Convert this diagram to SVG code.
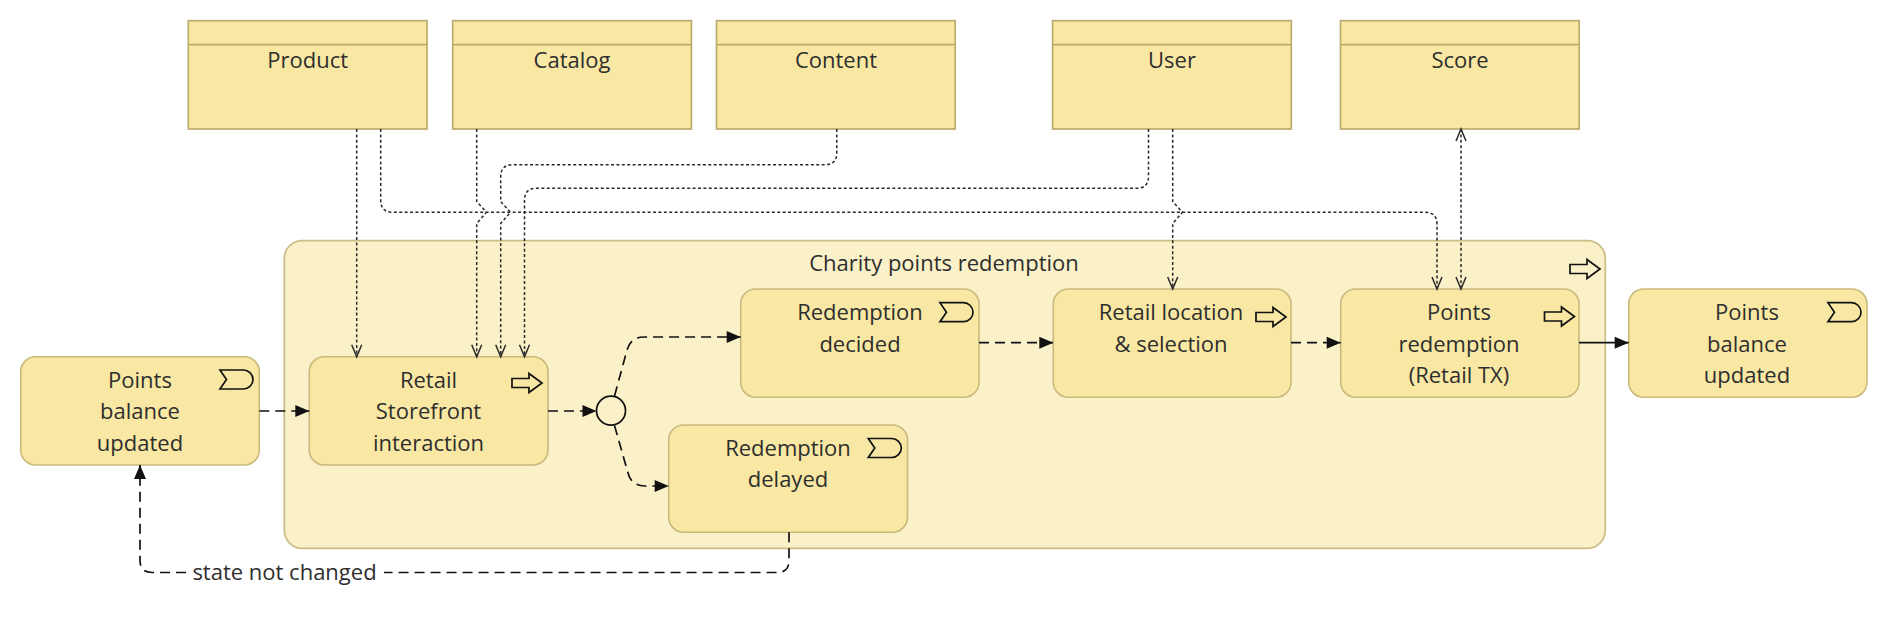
<svg xmlns="http://www.w3.org/2000/svg" width="1888" height="628" viewBox="0 0 1888 628">
<style>
.obj{fill:#f9e8a3;stroke:#bcac6e;stroke-width:1.7}
.node{fill:#f9e8a3;stroke:#c9b97c;stroke-width:1.6}
.cont{fill:#fbf1c9;stroke:#cbbd85;stroke-width:1.7}
.t{font-family:"Open Sans","Noto Sans",sans-serif;font-size:22px;fill:#2e2e2e;text-anchor:middle}
.icon{fill:none;stroke:#111;stroke-width:1.7;stroke-linejoin:miter}
.access{fill:none;stroke:#2a2a2a;stroke-width:1.5;stroke-dasharray:3 2.4}
.flow{fill:none;stroke:#111;stroke-width:1.7;stroke-dasharray:10 6}
.trig{fill:none;stroke:#111;stroke-width:1.7}
</style>
<defs>
<marker id="tri" markerUnits="userSpaceOnUse" markerWidth="16" markerHeight="14" refX="14" refY="6" orient="auto" overflow="visible">
<path d="M0,0 L14,6 L0,12 Z" fill="#111"/>
</marker>
<marker id="vee" markerUnits="userSpaceOnUse" markerWidth="14" markerHeight="12" refX="12" refY="5" orient="auto-start-reverse" overflow="visible">
<path d="M0,0 L12,5 L0,10" fill="none" stroke="#2a2a2a" stroke-width="1.5"/>
</marker>
<path id="evt" d="M0,0 H23.5 A9.5 9.5 0 0 1 23.5,19 H0 L6.5,9.5 Z"/>
<path id="proc" d="M0,-4.5 H17 V-9.5 L30,0 L17,9.5 V4.5 H0 Z"/>
</defs>

<g id="container-charity">
<rect class="cont" x="284.3" y="240.7" width="1321" height="307.6" rx="18"/>
<text class="t" x="944" y="271">Charity points redemption</text>
<use href="#proc" class="icon" x="1570" y="269"/>
</g>

<g id="obj-product"><rect class="obj" x="188.3" y="20.7" width="238.7" height="108.3"/><line class="obj" x1="188.3" y1="44.7" x2="427" y2="44.7"/><text class="t" x="307.7" y="68">Product</text></g>
<g id="obj-catalog"><rect class="obj" x="452.7" y="20.7" width="238.7" height="108.3"/><line class="obj" x1="452.7" y1="44.7" x2="691.4" y2="44.7"/><text class="t" x="572" y="68">Catalog</text></g>
<g id="obj-content"><rect class="obj" x="716.5" y="20.7" width="238.7" height="108.3"/><line class="obj" x1="716.5" y1="44.7" x2="955.2" y2="44.7"/><text class="t" x="836" y="68">Content</text></g>
<g id="obj-user"><rect class="obj" x="1052.6" y="20.7" width="238.7" height="108.3"/><line class="obj" x1="1052.6" y1="44.7" x2="1291.3" y2="44.7"/><text class="t" x="1172" y="68">User</text></g>
<g id="obj-score"><rect class="obj" x="1340.5" y="20.7" width="238.7" height="108.3"/><line class="obj" x1="1340.5" y1="44.7" x2="1579.2" y2="44.7"/><text class="t" x="1460" y="68">Score</text></g>

<g id="evt-points-balance-left">
<rect class="node" x="20.7" y="356.7" width="238.6" height="108.3" rx="15"/>
<use href="#evt" class="icon" x="220" y="370"/>
<text class="t" x="140" y="387.5">Points</text>
<text class="t" x="140" y="419.3">balance</text>
<text class="t" x="140" y="451">updated</text>
</g>
<g id="proc-retail-storefront">
<rect class="node" x="309.3" y="356.7" width="238.7" height="108.3" rx="15"/>
<use href="#proc" class="icon" x="512" y="383"/>
<text class="t" x="428.5" y="387.5">Retail</text>
<text class="t" x="428.5" y="419.3">Storefront</text>
<text class="t" x="428.5" y="451">interaction</text>
</g>
<g id="junction"><circle cx="611" cy="410.7" r="14.5" fill="none" stroke="#111" stroke-width="1.7"/></g>
<g id="evt-redemption-decided">
<rect class="node" x="740.7" y="289" width="238.3" height="108.3" rx="15"/>
<use href="#evt" class="icon" x="940" y="302.7"/>
<text class="t" x="860" y="320">Redemption</text>
<text class="t" x="860" y="351.7">decided</text>
</g>
<g id="evt-redemption-delayed">
<rect class="node" x="668.7" y="425" width="238.8" height="107.3" rx="15"/>
<use href="#evt" class="icon" x="868.3" y="438.5"/>
<text class="t" x="788" y="455.7">Redemption</text>
<text class="t" x="788" y="487.3">delayed</text>
</g>
<g id="proc-retail-location">
<rect class="node" x="1053.3" y="289" width="237.7" height="108.3" rx="15"/>
<use href="#proc" class="icon" x="1256" y="317"/>
<text class="t" x="1171" y="320">Retail location</text>
<text class="t" x="1171" y="351.7">&amp; selection</text>
</g>
<g id="proc-points-redemption">
<rect class="node" x="1340.7" y="289" width="238.3" height="108.3" rx="15"/>
<use href="#proc" class="icon" x="1544.5" y="316.5"/>
<text class="t" x="1459" y="320">Points</text>
<text class="t" x="1459" y="351.7">redemption</text>
<text class="t" x="1459" y="383.3">(Retail TX)</text>
</g>
<g id="evt-points-balance-right">
<rect class="node" x="1628.7" y="289" width="238.3" height="108.3" rx="15"/>
<use href="#evt" class="icon" x="1828" y="302.7"/>
<text class="t" x="1747" y="320">Points</text>
<text class="t" x="1747" y="351.7">balance</text>
<text class="t" x="1747" y="383.3">updated</text>
</g>

<g id="connectors">
<path class="access" marker-end="url(#vee)" d="M356.7,129 V356.7"/>
<path class="access" marker-end="url(#vee)" d="M380.7,129 V200.3 Q380.7,212.3 392.7,212.3 H1425 Q1437,212.3 1437,224.3 V289"/>
<path class="access" marker-end="url(#vee)" d="M476.7,129 V201.5 L486.5,212.3 L476.7,223.5 V356.7"/>
<path class="access" marker-end="url(#vee)" d="M836.8,129 V152.7 Q836.8,164.7 824.8,164.7 H512.7 Q500.7,164.7 500.7,176.7 V201.5 L510.5,212.3 L500.7,223.5 V356.7"/>
<path class="access" marker-end="url(#vee)" d="M1148.5,129 V176.3 Q1148.5,188.3 1136.5,188.3 H536.5 Q524.5,188.3 524.5,200.3 V356.7"/>
<path class="access" marker-end="url(#vee)" d="M1172.7,129 V201.5 L1182.5,212.3 L1172.7,223.5 V289"/>
<path class="access" marker-start="url(#vee)" marker-end="url(#vee)" d="M1461,129 V289"/>

<path class="flow" marker-end="url(#tri)" d="M259.3,411 H309.3"/>
<path class="flow" marker-end="url(#tri)" d="M548,411 H596.5"/>
<path class="flow" marker-end="url(#tri)" d="M614.5,396 L627,350 Q630.5,337 644,337 H740.7"/>
<path class="flow" marker-end="url(#tri)" d="M614.5,425.5 L628,473 Q631.5,486 645,486 H668.7"/>
<path class="flow" marker-end="url(#tri)" d="M979,342.7 H1053.3"/>
<path class="flow" marker-end="url(#tri)" d="M1291,342.7 H1340.7"/>
<path class="trig" marker-end="url(#tri)" d="M1579,342.7 H1628.7"/>
<path class="flow" d="M789,532.3 V560.5 Q789,572.5 777,572.5 H384"/>
<path class="flow" marker-end="url(#tri)" d="M186,572.5 H152 Q140,572.5 140,560.5 V465"/>
<text class="t" x="284.5" y="580">state not changed</text>
</g>
</svg>
